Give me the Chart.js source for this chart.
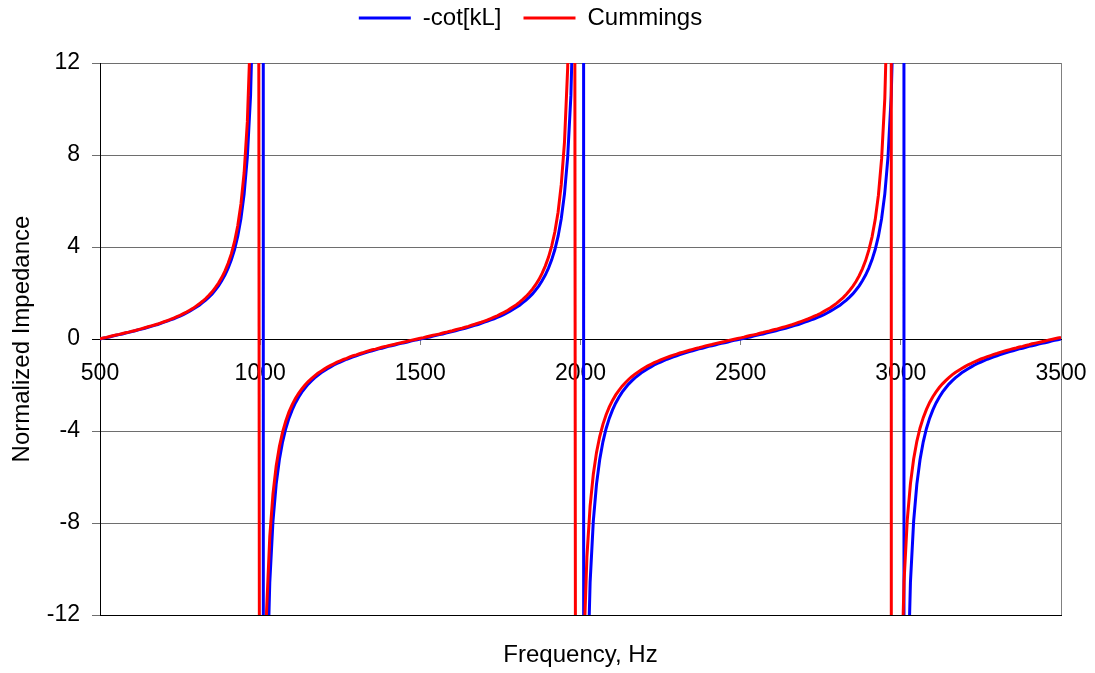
<!DOCTYPE html>
<html>
<head>
<meta charset="utf-8">
<title>Normalized Impedance</title>
<script src="https://cdn.jsdelivr.net/npm/chart.js@4.4.0/dist/chart.umd.min.js"></script>
<style>
  html, body { margin: 0; padding: 0; background: #fff; }
</style>
</head>
<body>
<canvas id="impChart" width="1095" height="673"></canvas>
<script>
// frequency samples, Hz
const FREQ = [
    500, 510, 520, 530, 540, 550, 560, 570, 580, 590,
    600, 610, 620, 630, 640, 650, 660, 670, 680, 690,
    700, 710, 720, 730, 740, 750, 760, 770, 780, 790,
    800, 810, 820, 830, 840, 850, 860, 870, 880, 890,
    900, 910, 920, 930, 940, 950, 960, 970, 980, 990,
    1000, 1010, 1020, 1030, 1040, 1050, 1060, 1070, 1080, 1090,
    1100, 1110, 1120, 1130, 1140, 1150, 1160, 1170, 1180, 1190,
    1200, 1210, 1220, 1230, 1240, 1250, 1260, 1270, 1280, 1290,
    1300, 1310, 1320, 1330, 1340, 1350, 1360, 1370, 1380, 1390,
    1400, 1410, 1420, 1430, 1440, 1450, 1460, 1470, 1480, 1490,
    1500, 1510, 1520, 1530, 1540, 1550, 1560, 1570, 1580, 1590,
    1600, 1610, 1620, 1630, 1640, 1650, 1660, 1670, 1680, 1690,
    1700, 1710, 1720, 1730, 1740, 1750, 1760, 1770, 1780, 1790,
    1800, 1810, 1820, 1830, 1840, 1850, 1860, 1870, 1880, 1890,
    1900, 1910, 1920, 1930, 1940, 1950, 1960, 1970, 1980, 1990,
    2000, 2010, 2020, 2030, 2040, 2050, 2060, 2070, 2080, 2090,
    2100, 2110, 2120, 2130, 2140, 2150, 2160, 2170, 2180, 2190,
    2200, 2210, 2220, 2230, 2240, 2250, 2260, 2270, 2280, 2290,
    2300, 2310, 2320, 2330, 2340, 2350, 2360, 2370, 2380, 2390,
    2400, 2410, 2420, 2430, 2440, 2450, 2460, 2470, 2480, 2490,
    2500, 2510, 2520, 2530, 2540, 2550, 2560, 2570, 2580, 2590,
    2600, 2610, 2620, 2630, 2640, 2650, 2660, 2670, 2680, 2690,
    2700, 2710, 2720, 2730, 2740, 2750, 2760, 2770, 2780, 2790,
    2800, 2810, 2820, 2830, 2840, 2850, 2860, 2870, 2880, 2890,
    2900, 2910, 2920, 2930, 2940, 2950, 2960, 2970, 2980, 2990,
    3000, 3010, 3020, 3030, 3040, 3050, 3060, 3070, 3080, 3090,
    3100, 3110, 3120, 3130, 3140, 3150, 3160, 3170, 3180, 3190,
    3200, 3210, 3220, 3230, 3240, 3250, 3260, 3270, 3280, 3290,
    3300, 3310, 3320, 3330, 3340, 3350, 3360, 3370, 3380, 3390,
    3400, 3410, 3420, 3430, 3440, 3450, 3460, 3470, 3480, 3490,
    3500
];

// -cot[kL] (blue)
const COT_KL = [
    0, 0.03, 0.06, 0.09, 0.13, 0.16, 0.19, 0.22, 0.26, 0.29,
    0.32, 0.36, 0.40, 0.43, 0.47, 0.51, 0.55, 0.59, 0.63, 0.68,
    0.73, 0.78, 0.83, 0.88, 0.94, 1.00, 1.06, 1.13, 1.21, 1.29,
    1.38, 1.47, 1.58, 1.69, 1.82, 1.96, 2.13, 2.31, 2.53, 2.78,
    3.08, 3.44, 3.89, 4.47, 5.24, 6.31, 7.92, 10.58, 15.89, 31.82,
    8000, -31.82, -15.89, -10.58, -7.92, -6.31, -5.24, -4.47, -3.89, -3.44,
    -3.08, -2.78, -2.53, -2.31, -2.13, -1.96, -1.82, -1.69, -1.58, -1.47,
    -1.38, -1.29, -1.21, -1.13, -1.06, -1.00, -0.94, -0.88, -0.83, -0.78,
    -0.73, -0.68, -0.63, -0.59, -0.55, -0.51, -0.47, -0.43, -0.40, -0.36,
    -0.32, -0.29, -0.26, -0.22, -0.19, -0.16, -0.13, -0.09, -0.06, -0.03,
    0, 0.03, 0.06, 0.09, 0.13, 0.16, 0.19, 0.22, 0.26, 0.29,
    0.32, 0.36, 0.40, 0.43, 0.47, 0.51, 0.55, 0.59, 0.63, 0.68,
    0.73, 0.78, 0.83, 0.88, 0.94, 1.00, 1.06, 1.13, 1.21, 1.29,
    1.38, 1.47, 1.58, 1.69, 1.82, 1.96, 2.13, 2.31, 2.53, 2.78,
    3.08, 3.44, 3.89, 4.47, 5.24, 6.31, 7.92, 10.58, 15.89, 31.82,
    8000, -31.82, -15.89, -10.58, -7.92, -6.31, -5.24, -4.47, -3.89, -3.44,
    -3.08, -2.78, -2.53, -2.31, -2.13, -1.96, -1.82, -1.69, -1.58, -1.47,
    -1.38, -1.29, -1.21, -1.13, -1.06, -1.00, -0.94, -0.88, -0.83, -0.78,
    -0.73, -0.68, -0.63, -0.59, -0.55, -0.51, -0.47, -0.43, -0.40, -0.36,
    -0.32, -0.29, -0.26, -0.22, -0.19, -0.16, -0.13, -0.09, -0.06, -0.03,
    0, 0.03, 0.06, 0.09, 0.13, 0.16, 0.19, 0.22, 0.26, 0.29,
    0.32, 0.36, 0.40, 0.43, 0.47, 0.51, 0.55, 0.59, 0.63, 0.68,
    0.73, 0.78, 0.83, 0.88, 0.94, 1.00, 1.06, 1.13, 1.21, 1.29,
    1.38, 1.47, 1.58, 1.69, 1.82, 1.96, 2.13, 2.31, 2.53, 2.78,
    3.08, 3.44, 3.89, 4.47, 5.24, 6.31, 7.92, 10.58, 15.89, 31.82,
    8000, -31.82, -15.89, -10.58, -7.92, -6.31, -5.24, -4.47, -3.89, -3.44,
    -3.08, -2.78, -2.53, -2.31, -2.13, -1.96, -1.82, -1.69, -1.58, -1.47,
    -1.38, -1.29, -1.21, -1.13, -1.06, -1.00, -0.94, -0.88, -0.83, -0.78,
    -0.73, -0.68, -0.63, -0.59, -0.55, -0.51, -0.47, -0.43, -0.40, -0.36,
    -0.32, -0.29, -0.26, -0.22, -0.19, -0.16, -0.13, -0.09, -0.06, -0.03,
    0
];

// Cummings (red)
const CUMMINGS = [
    0.01, 0.04, 0.07, 0.11, 0.14, 0.17, 0.20, 0.24, 0.27, 0.30,
    0.34, 0.37, 0.41, 0.45, 0.49, 0.53, 0.57, 0.61, 0.65, 0.70,
    0.75, 0.80, 0.85, 0.91, 0.97, 1.03, 1.10, 1.17, 1.25, 1.33,
    1.43, 1.53, 1.64, 1.76, 1.90, 2.05, 2.23, 2.43, 2.67, 2.95,
    3.29, 3.70, 4.23, 4.92, 5.87, 7.24, 9.44, 13.50, 23.61, 93.6,
    -47.74, -19.01, -11.85, -8.59, -6.73, -5.52, -4.68, -4.05, -3.56, -3.17,
    -2.85, -2.59, -2.36, -2.17, -2.00, -1.85, -1.72, -1.60, -1.49, -1.40,
    -1.31, -1.22, -1.15, -1.08, -1.01, -0.95, -0.89, -0.84, -0.78, -0.73,
    -0.69, -0.64, -0.60, -0.55, -0.51, -0.47, -0.44, -0.40, -0.36, -0.33,
    -0.29, -0.26, -0.23, -0.19, -0.16, -0.13, -0.10, -0.06, -0.03, 0.00,
    0.03, 0.06, 0.10, 0.13, 0.16, 0.19, 0.22, 0.26, 0.29, 0.33,
    0.36, 0.40, 0.44, 0.47, 0.51, 0.55, 0.60, 0.64, 0.69, 0.73,
    0.78, 0.83, 0.89, 0.95, 1.01, 1.08, 1.15, 1.22, 1.31, 1.40,
    1.49, 1.60, 1.72, 1.85, 2.00, 2.17, 2.36, 2.58, 2.85, 3.17,
    3.55, 4.04, 4.66, 5.51, 6.72, 8.56, 11.79, 18.85, 46.8, -97.3,
    -23.86, -13.58, -9.47, -7.27, -5.88, -4.93, -4.24, -3.71, -3.29, -2.95,
    -2.67, -2.43, -2.23, -2.05, -1.90, -1.76, -1.64, -1.53, -1.43, -1.34,
    -1.25, -1.17, -1.10, -1.03, -0.97, -0.91, -0.85, -0.80, -0.75, -0.70,
    -0.66, -0.61, -0.57, -0.53, -0.49, -0.45, -0.41, -0.38, -0.34, -0.30,
    -0.27, -0.24, -0.20, -0.17, -0.14, -0.11, -0.07, -0.04, -0.01, 0.02,
    0.05, 0.08, 0.12, 0.15, 0.18, 0.21, 0.25, 0.28, 0.32, 0.35,
    0.39, 0.42, 0.46, 0.50, 0.54, 0.58, 0.62, 0.67, 0.72, 0.77,
    0.82, 0.87, 0.93, 0.99, 1.05, 1.12, 1.20, 1.28, 1.36, 1.46,
    1.56, 1.68, 1.80, 1.95, 2.11, 2.29, 2.50, 2.75, 3.05, 3.41,
    3.86, 4.43, 5.19, 6.25, 7.84, 10.46, 15.68, 31.20, -1590, -32.05,
    -15.89, -10.55, -7.89, -6.29, -5.22, -4.45, -3.87, -3.42, -3.06, -2.76,
    -2.51, -2.30, -2.11, -1.95, -1.81, -1.68, -1.56, -1.46, -1.37, -1.28,
    -1.20, -1.12, -1.06, -0.99, -0.93, -0.87, -0.82, -0.77, -0.72, -0.67,
    -0.63, -0.58, -0.54, -0.50, -0.46, -0.42, -0.39, -0.35, -0.32, -0.28,
    -0.25, -0.21, -0.18, -0.15, -0.12, -0.09, -0.05, -0.02, 0.01, 0.04,
    0.07
];

const X_TICKS = [500, 1000, 1500, 2000, 2500, 3000, 3500];
const Y_TICKS = [-12, -8, -4, 0, 4, 8, 12];

const FONT = '"Liberation Sans", Arial, sans-serif';
const GRID_COLOR = '#6e6e6e';

Chart.defaults.font.family = FONT;
Chart.defaults.color = '#000';

function toPoints(values) {
    return FREQ.map((f, i) => ({ x: f, y: values[i] }));
}

const ctx = document.getElementById('impChart').getContext('2d');

new Chart(ctx, {
    type: 'line',
    data: {
        datasets: [{
            label: '-cot[kL]',
            data: toPoints(COT_KL),
            borderColor: '#0000ff',
            backgroundColor: '#0000ff',
            borderWidth: 3,
            pointRadius: 0,
            tension: 0,
            clip: 0,
            order: 1
        }, {
            label: 'Cummings',
            data: toPoints(CUMMINGS),
            borderColor: '#ff0000',
            backgroundColor: '#ff0000',
            borderWidth: 3,
            pointRadius: 0,
            tension: 0,
            clip: 0,
            order: 0 // red is drawn over blue
        }]
    },
    options: {
        responsive: false,
        animation: false,
        events: [],
        layout: {
            padding: { top: -16, right: 34, bottom: 0, left: 0 }
        },
        plugins: {
            legend: {
                position: 'top',
                labels: {
                    usePointStyle: true,
                    pointStyle: 'line',
                    pointStyleWidth: 52,
                    padding: 22,
                    font: { size: 24 },
                    color: '#000',
                    sort: (a, b) => a.datasetIndex - b.datasetIndex
                }
            },
            // empty spacer between legend and plot area
            subtitle: {
                display: true,
                text: '',
                weight: 500,
                padding: 0,
                font: { size: 23, lineHeight: 1 }
            },
            tooltip: { enabled: false }
        },
        scales: {
            x: {
                type: 'linear',
                position: 'bottom',
                min: 500,
                max: 3500,
                afterBuildTicks: scale => { scale.ticks = X_TICKS.map(v => ({ value: v })); },
                afterFit: scale => { scale.height = 58; },
                ticks: { display: false },
                grid: {
                    drawTicks: false,
                    color: c => (c.tick && c.tick.value === 3500) ? '#808080' : 'rgba(0,0,0,0)'
                },
                border: { color: '#000', width: 1 },
                title: {
                    display: true,
                    text: 'Frequency, Hz',
                    font: { size: 24 },
                    color: '#000',
                    padding: { top: 0, bottom: 3 }
                }
            },
            // tick labels sit under the zero line
            x2: {
                type: 'linear',
                position: { y: 0 },
                min: 500,
                max: 3500,
                afterBuildTicks: scale => { scale.ticks = X_TICKS.map(v => ({ value: v })); },
                afterFit: scale => {
                    // end labels may hang past the plot edges
                    scale.paddingLeft = 0;
                    scale.paddingRight = 0;
                },
                ticks: {
                    font: { size: 23 },
                    color: '#000',
                    padding: 16,
                    maxRotation: 0,
                    autoSkip: false,
                    callback: value => String(value)
                },
                grid: {
                    drawOnChartArea: false,
                    tickLength: 5,
                    color: '#808080'
                },
                border: { color: '#000', width: 1 }
            },
            y: {
                type: 'linear',
                position: 'left',
                min: -12,
                max: 12,
                afterBuildTicks: scale => { scale.ticks = Y_TICKS.map(v => ({ value: v })); },
                afterFit: scale => { scale.width = 100; },
                ticks: {
                    font: { size: 23 },
                    color: '#000',
                    padding: 12
                },
                grid: {
                    tickLength: 8,
                    color: c => (c.tick && c.tick.value === 0) ? '#000' : GRID_COLOR
                },
                border: { color: '#000', width: 1 },
                title: {
                    display: true,
                    text: 'Normalized Impedance',
                    font: { size: 24 },
                    color: '#000',
                    padding: { top: 8, bottom: 0 }
                }
            }
        }
    }
});
</script>
</body>
</html>
